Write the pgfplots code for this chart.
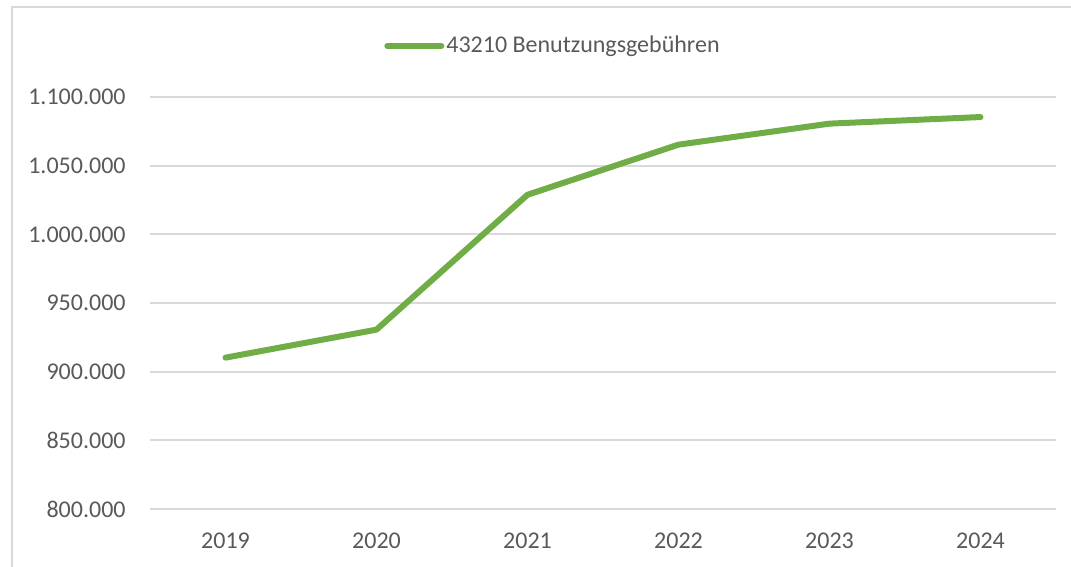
\documentclass[border=0pt]{standalone}
\usepackage{fontspec}
\setmainfont{Carlito}
\usepackage{pgfplots}
\pgfplotsset{compat=1.18}
\definecolor{xlgreen}{HTML}{70AD47}
\definecolor{xlgrid}{HTML}{D9D9D9}
\definecolor{xltext}{HTML}{595959}
\begin{document}
\begin{tikzpicture}
\path[use as bounding box] (-75pt,-29pt) rectangle (460.5pt,254.5pt);
\draw[xlgrid, line width=1pt] (-69pt,-40pt) -- (-69pt,251pt) -- (470pt,251pt);
\begin{axis}[
    at={(0pt,0pt)}, anchor=south west,
    scale only axis,
    width=453pt, height=206pt,
    xmin=-0.5, xmax=5.5,
    ymin=800000, ymax=1100000,
    xtick=data,
    xticklabels={2019,2020,2021,2022,2023,2024},
    ytick={800000,850000,900000,950000,1000000,1050000,1100000},
    scaled y ticks=false,
    yticklabel style={/pgf/number format/fixed, /pgf/number format/1000 sep={.},
        /pgf/number format/assume math mode=true,
        anchor=east, inner sep=0pt, xshift=-12pt},
    xticklabel style={anchor=north, inner sep=0pt, yshift=-12pt},
    ymajorgrids,
    grid style={xlgrid, line width=1pt},
    axis line style={draw=none},
    major tick length=0pt,
    tick style={draw=none},
    font=\fontsize{12}{14}\selectfont,
    tick label style={text=xltext},
    legend style={at={(0.4448,1.1238)}, anchor=center, draw=none, fill=none,
        text=xltext, font=\fontsize{12}{14}\selectfont,
        inner sep=0pt, nodes={inner sep=1pt}},
    legend image code/.code={\draw[#1, line cap=round] (0pt,0pt) -- (27pt,0pt);},
]
\addplot[xlgreen, line width=3pt, line join=round, line cap=round] coordinates {
    (0,910200) (1,930600) (2,1028800) (3,1065300) (4,1080600) (5,1085400)
};
\addlegendentry{43210 Benutzungsgebühren}
\end{axis}
\end{tikzpicture}
\end{document}
